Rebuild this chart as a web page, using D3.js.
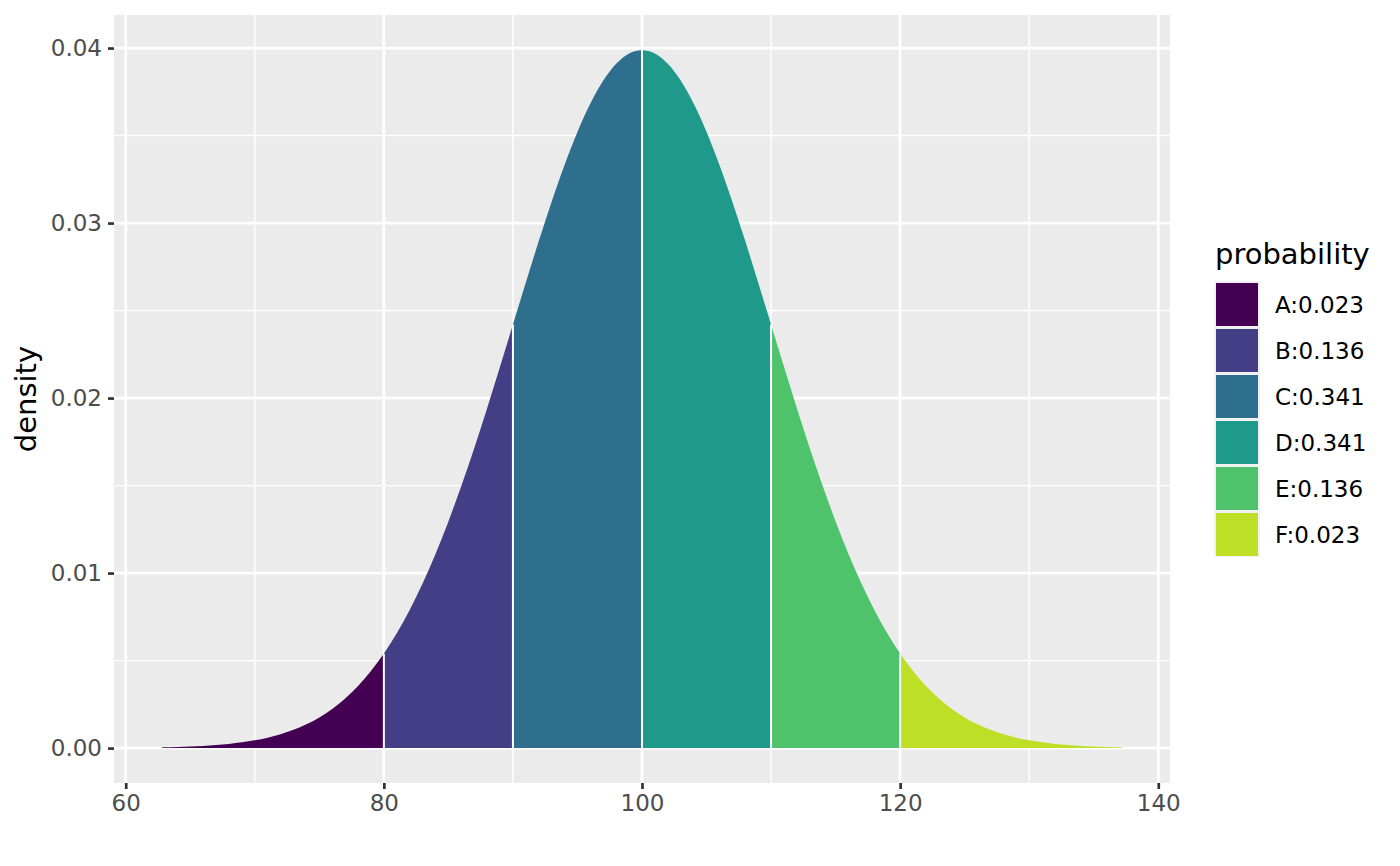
<!DOCTYPE html>
<html>
<head>
<meta charset="utf-8">
<script src="https://cdn.jsdelivr.net/npm/d3@7"></script>
<style>
  html, body { margin: 0; padding: 0; background: #ffffff; }
  svg { display: block; font-family: "DejaVu Sans", sans-serif; }
</style>
</head>
<body>
<svg id="chart" width="1400" height="866"></svg>
<script>
// ---- data ----
const xValues = [62.81, 63, 64, 65, 66, 67, 68, 69, 70, 71, 72, 73, 74, 75, 76, 77, 78, 79, 80,
  81, 82, 83, 84, 85, 86, 87, 88, 89, 90, 91, 92, 93, 94, 95, 96, 97, 98, 99, 100,
  101, 102, 103, 104, 105, 106, 107, 108, 109, 110, 111, 112, 113, 114, 115, 116, 117, 118, 119, 120,
  121, 122, 123, 124, 125, 126, 127, 128, 129, 130, 131, 132, 133, 134, 135, 136, 137, 137.19];
const densityValues = [0.0000396, 0.0000425, 0.0000612, 0.0000873, 0.000123, 0.000172, 0.000238, 0.000327, 0.000443,
  0.000595, 0.000792, 0.001042, 0.001358, 0.001753, 0.002239, 0.002833, 0.003547, 0.004398, 0.005399,
  0.006562, 0.007895, 0.009405, 0.011092, 0.012952, 0.014973, 0.017137, 0.019419, 0.021785, 0.024197,
  0.026609, 0.028969, 0.031225, 0.033322, 0.035207, 0.036827, 0.038139, 0.039104, 0.039695, 0.039894,
  0.039695, 0.039104, 0.038139, 0.036827, 0.035207, 0.033322, 0.031225, 0.028969, 0.026609, 0.024197,
  0.021785, 0.019419, 0.017137, 0.014973, 0.012952, 0.011092, 0.009405, 0.007895, 0.006562, 0.005399,
  0.004398, 0.003547, 0.002833, 0.002239, 0.001753, 0.001358, 0.001042, 0.000792, 0.000595, 0.000443,
  0.000327, 0.000238, 0.000172, 0.000123, 0.0000873, 0.0000612, 0.0000425, 0.0000396];
const regionBreaks = [80, 90, 100, 110, 120];
const regionLabels = ["A:0.023", "B:0.136", "C:0.341", "D:0.341", "E:0.136", "F:0.023"];
const xTicks = [60, 80, 100, 120, 140];
const xMinor = [70, 90, 110, 130];
const yTicks = [0, 0.01, 0.02, 0.03, 0.04];
const yTickLabels = ["0.00", "0.01", "0.02", "0.03", "0.04"];
const yMinor = [0.005, 0.015, 0.025, 0.035];
const legendTitle = "probability";
const yTitle = "density";
const viridisStops = [0, 0.18, 0.36, 0.54, 0.72, 0.9];

// ---- layout ----
const panel = { left: 114, right: 1170, top: 15, bottom: 783 };
const svg = d3.select("#chart");

const points = xValues.map((x, i) => ({ x, y: densityValues[i] }));
const xExt = d3.extent(xValues);
const xPad = (xExt[1] - xExt[0]) * 0.05;
const yMax = d3.max(densityValues);
const yPad = yMax * 0.05;

const x = d3.scaleLinear().domain([xExt[0] - xPad, xExt[1] + xPad]).range([panel.left, panel.right]);
const y = d3.scaleLinear().domain([0 - yPad, yMax + yPad]).range([panel.bottom, panel.top]);

const color = d3.scaleOrdinal().domain(regionLabels).range(viridisStops.map(t => d3.interpolateViridis(t)));

// panel background
svg.append("rect").attr("x", panel.left).attr("y", panel.top)
  .attr("width", panel.right - panel.left).attr("height", panel.bottom - panel.top)
  .attr("fill", "#ebebeb");

const grid = svg.append("g");
// minor grid
yMinor.forEach(v => grid.append("line").attr("x1", panel.left).attr("x2", panel.right)
  .attr("y1", y(v)).attr("y2", y(v)).attr("stroke", "#ffffff").attr("stroke-width", 1.4));
xMinor.forEach(v => grid.append("line").attr("y1", panel.top).attr("y2", panel.bottom)
  .attr("x1", x(v)).attr("x2", x(v)).attr("stroke", "#ffffff").attr("stroke-width", 1.4));
// major grid
yTicks.forEach(v => grid.append("line").attr("x1", panel.left).attr("x2", panel.right)
  .attr("y1", y(v)).attr("y2", y(v)).attr("stroke", "#ffffff").attr("stroke-width", 2.8));
xTicks.forEach(v => grid.append("line").attr("y1", panel.top).attr("y2", panel.bottom)
  .attr("x1", x(v)).attr("x2", x(v)).attr("stroke", "#ffffff").attr("stroke-width", 2.8));

// regions
const edges = [xExt[0], ...regionBreaks, xExt[1]];
const area = d3.area().x(d => x(d.x)).y0(y(0)).y1(d => y(d.y)).curve(d3.curveMonotoneX);
regionLabels.forEach((lab, i) => {
  const lo = edges[i], hi = edges[i + 1];
  const seg = points.filter(p => p.x >= lo && p.x <= hi);
  svg.append("path").datum(seg).attr("d", area).attr("fill", color(lab));
});
// white boundary lines
regionBreaks.forEach(b => {
  const p = points.find(q => q.x === b);
  svg.append("line").attr("x1", x(b)).attr("x2", x(b)).attr("y1", y(0)).attr("y2", y(p.y))
    .attr("stroke", "#ffffff").attr("stroke-width", 2);
});

// axes
const xAxis = d3.axisBottom(x).tickValues(xTicks).tickSize(6).tickPadding(6).tickFormat(d3.format("d"));
const gx = svg.append("g").attr("transform", `translate(0,${panel.bottom})`).call(xAxis);
gx.select(".domain").remove();
gx.selectAll(".tick line").attr("stroke", "#333333").attr("stroke-width", 2.7);
gx.selectAll(".tick text").attr("fill", "#4d4d4d").attr("font-size", 23)
  .attr("font-family", "DejaVu Sans").attr("dy", "0.7em");

const yAxis = d3.axisLeft(y).tickValues(yTicks).tickSize(6).tickPadding(6)
  .tickFormat((d, i) => yTickLabels[i]);
const gy = svg.append("g").attr("transform", `translate(${panel.left},0)`).call(yAxis);
gy.select(".domain").remove();
gy.selectAll(".tick line").attr("stroke", "#333333").attr("stroke-width", 2.7);
gy.selectAll(".tick text").attr("fill", "#4d4d4d").attr("font-size", 23)
  .attr("font-family", "DejaVu Sans");

// y title
svg.append("text").attr("transform", `translate(35.5,${(panel.top + panel.bottom) / 2}) rotate(-90)`)
  .attr("text-anchor", "middle").attr("font-size", 29).attr("fill", "#000000").text(yTitle);

// legend
const lg = svg.append("g");
lg.append("text").attr("x", 1215).attr("y", 264).attr("font-size", 29).attr("fill", "#000000").text(legendTitle);
const keyTop = 281, keyH = 46, keyX = 1214, keyW = 46;
lg.append("rect").attr("x", keyX).attr("y", keyTop).attr("width", keyW).attr("height", keyH * regionLabels.length)
  .attr("fill", "#f2f2f2");
regionLabels.forEach((lab, i) => {
  const ky = keyTop + i * keyH;
  lg.append("rect").attr("x", keyX + 2).attr("y", ky + 2).attr("width", keyW - 4).attr("height", keyH - 3)
    .attr("fill", color(lab));
  lg.append("text").attr("x", 1275).attr("y", ky + keyH / 2 + 1).attr("dy", "0.36em")
    .attr("font-size", 23).attr("fill", "#000000").text(lab);
});
</script>
</body>
</html>
